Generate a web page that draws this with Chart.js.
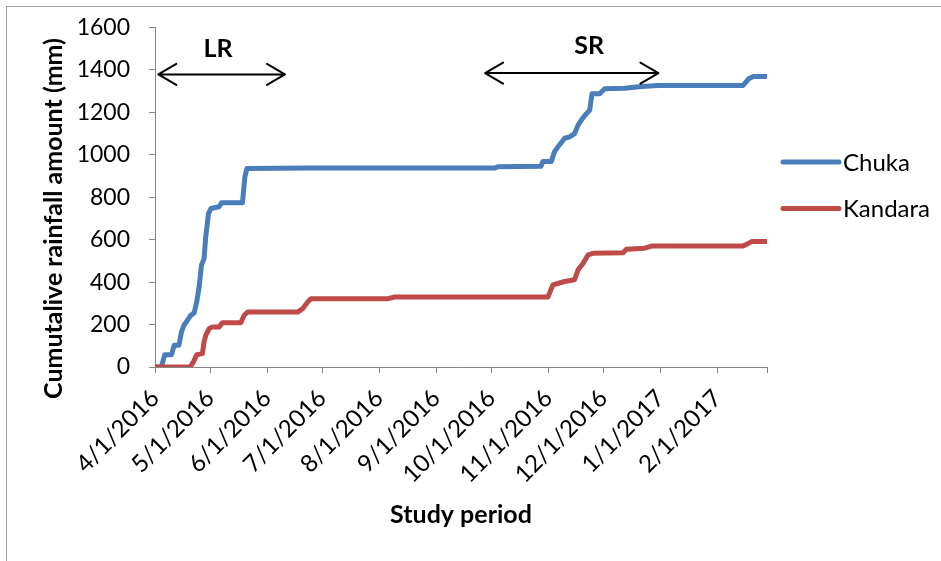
<!DOCTYPE html>
<html>
<head>
<meta charset="utf-8">
<title>Cumulative rainfall, Chuka and Kandara</title>
<script src="https://cdn.jsdelivr.net/npm/chart.js@4.4.1/dist/chart.umd.min.js"></script>
<style>
  html, body { margin: 0; padding: 0; background: #ffffff; }
  canvas { display: block; }
</style>
</head>
<body>
<canvas id="rainChart" width="941" height="561"></canvas>
<script>
// Month labels shown on the date axis (days counted from 4/1/2016)
const monthLabels = ['4/1/2016', '5/1/2016', '6/1/2016', '7/1/2016', '8/1/2016', '9/1/2016',
  '10/1/2016', '11/1/2016', '12/1/2016', '1/1/2017', '2/1/2017'];
const axisEndDay = 333;

// Cumulative rainfall (mm) against day of the study period
const chukaDay = [0, 3.5, 5.3, 9, 10.4, 13, 14.4, 15.8, 17.6, 19.5, 21.3, 22.7, 24, 25.3, 26.7, 27.6,
  29.1, 30.4, 34.9, 36.2, 47.6, 48.9, 50, 83, 185, 186.5, 210, 211, 215.6, 217.4, 219.3, 222.9,
  225.6, 228.3, 230.2, 232, 234.7, 236.5, 237.8, 242, 244.7, 255.6, 264.7, 273.8, 320, 323, 325.6, 333];
const chukaMm = [0, 0, 58, 58, 102, 102, 165, 197, 220, 244, 255, 307, 377, 480, 511, 613,
  723, 747, 755, 774, 774, 896, 935, 938, 938, 944, 946, 968, 968, 1015, 1038, 1078,
  1085, 1100, 1140, 1164, 1194, 1210, 1288, 1288, 1311, 1314, 1322, 1327, 1327, 1358, 1369, 1369];

const kandaraDay = [0, 19.1, 20.9, 22.7, 25.8, 26.7, 27.6, 29.5, 31.3, 34.9, 36.7, 46.7, 48.5, 50.4,
  77.6, 80.4, 83.1, 84.9, 126.7, 130.4, 213.8, 216.5, 222.9, 228.3, 230.2, 233, 235.6, 238.3,
  254.7, 256.5, 266.5, 270.2, 320, 324.7, 333];
const kandaraMm = [0, 0, 24, 58, 63, 118, 149, 181, 189, 189, 209, 209, 244, 259,
  259, 275, 307, 322, 322, 330, 330, 387, 403, 411, 458, 489, 528, 536,
  539, 555, 560, 570, 570, 591, 591];

// Rainy seasons: long rains (LR) and short rains (SR)
const seasonNames = ['LR', 'SR'];
const seasonStartDay = [1.8, 179.6];
const seasonEndDay = [70.7, 273.9];
const seasonArrowMm = [1379, 1385];
const seasonLabelDay = [34.3, 236.2];
const seasonLabelMm = [1500, 1514];

const dayMs = 86400000;
const originMs = Date.UTC(2016, 3, 1);
const monthDays = monthLabels.map(s => {
  const [m, d, y] = s.split('/').map(Number);
  return Math.round((Date.UTC(y, m - 1, d) - originMs) / dayMs);
});
const labelByDay = {};
monthDays.forEach((d, i) => { labelByDay[d] = monthLabels[i]; });

const toPoints = (xs, ys) => xs.map((x, i) => ({ x: x, y: ys[i] }));

const FONT = 'Lato';
const AXIS_GREY = '#868686';

// White page plus the light frame around the chart
const framePlugin = {
  id: 'frame',
  beforeDraw(chart) {
    const ctx = chart.ctx;
    ctx.save();
    ctx.fillStyle = '#ffffff';
    ctx.fillRect(0, 0, chart.width, chart.height);
    ctx.strokeStyle = '#a0a0a0';
    ctx.lineWidth = 1;
    ctx.strokeRect(6.5, 6.5, chart.width + 20, chart.height + 20);
    ctx.restore();
  }
};

// Vertical value-axis title
const yTitlePlugin = {
  id: 'yTitle',
  afterDraw(chart, args, opts) {
    const ctx = chart.ctx;
    ctx.save();
    ctx.translate(opts.x, opts.y);
    ctx.rotate(-Math.PI / 2);
    ctx.font = 'bold 25px ' + FONT;
    ctx.fillStyle = '#000000';
    ctx.textAlign = 'center';
    ctx.textBaseline = 'middle';
    ctx.fillText(opts.text, 0, 0);
    ctx.restore();
  }
};

// Double-headed season arrows with their labels
const seasonPlugin = {
  id: 'seasons',
  afterDatasetsDraw(chart) {
    const { ctx, scales: { x, y } } = chart;
    ctx.save();
    ctx.strokeStyle = '#000000';
    ctx.fillStyle = '#000000';
    ctx.lineWidth = 2;
    ctx.lineCap = 'round';
    ctx.lineJoin = 'round';
    seasonNames.forEach((name, i) => {
      const x0 = x.getPixelForValue(seasonStartDay[i]);
      const x1 = x.getPixelForValue(seasonEndDay[i]);
      const ay = y.getPixelForValue(seasonArrowMm[i]);
      const hx = 18, hy = 10.5;
      ctx.beginPath();
      ctx.moveTo(x0, ay); ctx.lineTo(x1, ay);
      ctx.moveTo(x0 + hx, ay - hy); ctx.lineTo(x0, ay); ctx.lineTo(x0 + hx, ay + hy);
      ctx.moveTo(x1 - hx, ay - hy); ctx.lineTo(x1, ay); ctx.lineTo(x1 - hx, ay + hy);
      ctx.stroke();
      ctx.font = 'bold 25px ' + FONT;
      ctx.textAlign = 'center';
      ctx.textBaseline = 'middle';
      ctx.fillText(name, x.getPixelForValue(seasonLabelDay[i]), y.getPixelForValue(seasonLabelMm[i]));
    });
    ctx.restore();
  }
};

// Legend to the right of the plot: thick line sample followed by the series name
const sideLegendPlugin = {
  id: 'sideLegend',
  afterDraw(chart, args, opts) {
    const ctx = chart.ctx;
    ctx.save();
    chart.data.datasets.forEach((ds, i) => {
      const ly = opts.top + i * opts.gap;
      ctx.strokeStyle = ds.borderColor;
      ctx.lineWidth = 5;
      ctx.lineCap = 'round';
      ctx.beginPath();
      ctx.moveTo(opts.x, ly);
      ctx.lineTo(opts.x + opts.sampleWidth, ly);
      ctx.stroke();
      ctx.fillStyle = '#000000';
      ctx.font = '24px ' + FONT;
      ctx.textAlign = 'left';
      ctx.textBaseline = 'middle';
      ctx.fillText(ds.label, opts.x + opts.sampleWidth + 4, ly + 1);
    });
    ctx.restore();
  }
};

new Chart(document.getElementById('rainChart'), {
  type: 'line',
  data: {
    datasets: [
      { label: 'Chuka', data: toPoints(chukaDay, chukaMm), borderColor: '#4A7EBB', borderWidth: 5,
        pointRadius: 0, tension: 0, borderJoinStyle: 'round', borderCapStyle: 'round', order: 1 },
      { label: 'Kandara', data: toPoints(kandaraDay, kandaraMm), borderColor: '#BE4B48', borderWidth: 5,
        pointRadius: 0, tension: 0, borderJoinStyle: 'round', borderCapStyle: 'round', order: 0 }
    ]
  },
  options: {
    responsive: false,
    animation: false,
    parsing: false,
    layout: { padding: { left: 0, top: 27.5, right: 174, bottom: 0 } },
    plugins: {
      legend: { display: false },
      tooltip: { enabled: false },
      yTitle: { text: 'Cumutalive rainfall amount (mm)', x: 54, y: 218.5 },
      sideLegend: { x: 783, top: 162, gap: 46.5, sampleWidth: 56 }
    },
    scales: {
      x: {
        type: 'linear', min: 0, max: axisEndDay,
        afterBuildTicks(scale) { scale.ticks = monthDays.concat([axisEndDay]).map(v => ({ value: v })); },
        afterFit(scale) { scale.height = 194; scale.paddingLeft = 0; scale.paddingRight = 0; },
        grid: { drawOnChartArea: false, drawTicks: true, tickLength: 6, color: AXIS_GREY },
        border: { color: AXIS_GREY, width: 1 },
        ticks: { autoSkip: false, minRotation: 45, maxRotation: 45, padding: 11, labelOffset: 0,
          color: '#000000', font: { family: FONT, size: 24 }, callback: (value) => labelByDay[value] || '' },
        title: { display: true, text: 'Study period', color: '#000000',
          font: { family: FONT, size: 25, weight: 'bold' }, padding: { top: 0, bottom: 31 } }
      },
      y: {
        min: 0, max: 1600,
        afterFit(scale) { scale.width = 155; scale.paddingTop = 0; scale.paddingBottom = 0; },
        grid: { drawOnChartArea: false, drawTicks: true, tickLength: 6, color: AXIS_GREY },
        border: { color: AXIS_GREY, width: 1 },
        ticks: { stepSize: 200, padding: 19, color: '#000000', font: { family: FONT, size: 23 },
          callback: (value) => String(value) }
      }
    }
  },
  plugins: [framePlugin, yTitlePlugin, seasonPlugin, sideLegendPlugin]
});
</script>
</body>
</html>
